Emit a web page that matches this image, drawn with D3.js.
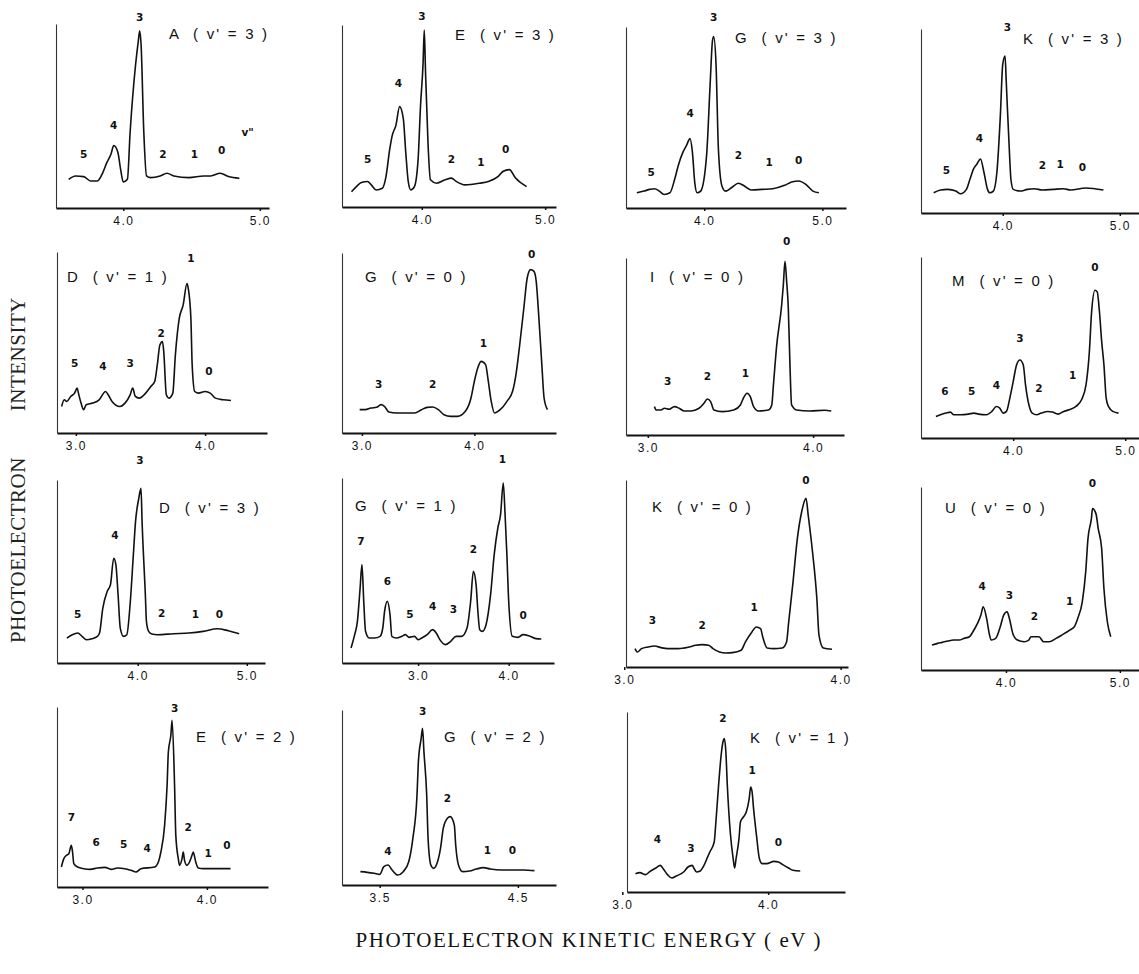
<!DOCTYPE html>
<html>
<head>
<meta charset="utf-8">
<script src="https://cdn.jsdelivr.net/npm/d3@7"></script>
<style>
  body { margin: 0; background: #fff; }
</style>
</head>
<body>
<div class="vis-container"></div>
<script>
// Panel titles: species letter and upper-state vibrational level
const species = ['A', 'E', 'G', 'K', 'D', 'G', 'I', 'M', 'D', 'G', 'K', 'U', 'E', 'G', 'K'];
const vPrime = [3, 3, 3, 3, 1, 0, 0, 0, 3, 1, 0, 0, 2, 2, 1];

// energy axis extent (eV) and labelled ticks of each panel
const energyDomains = [
  [3.507, 5.067], [3.353, 5.088], [3.338, 5.2], [3.302, 5.164],
  [2.854, 4.479], [2.823, 4.726], [2.868, 4.187], [3.177, 5.123],
  [3.26, 5.167], [2.16, 4.5], [3.008, 4.034], [3.254, 5.168],
  [2.795, 4.491], [3.227, 4.776], [3.032, 4.527]
];
const tickValues = [
  [4.0, 5.0], [4.0, 5.0], [4.0, 5.0], [4.0, 5.0],
  [3.0, 4.0], [3.0, 4.0], [3.0, 4.0], [4.0, 5.0],
  [4.0, 5.0], [3.0, 4.0], [3.0, 4.0], [4.0, 5.0],
  [3.0, 4.0], [3.5, 4.5], [3.0, 4.0]
];
// intensity (arb. units) at the top of each panel's vertical axis
const intensityMax = [54.5, 53.5, 53.5, 54.5, 54.5, 54, 53, 54.5, 55, 55.5, 56, 55, 54, 52.5, 54];

// spectra: [kinetic energy (eV), intensity]
const specA3 = [[3.60, 8.5], [3.65, 9.5], [3.71, 9.3], [3.76, 8.0], [3.81, 8.0], [3.85, 10.5], [3.88, 13.5], [3.91, 16.0], [3.93, 18.5], [3.96, 16.5], [3.98, 11.5], [4.00, 7.7], [4.03, 8.5], [4.05, 22.5], [4.09, 42.5], [4.11, 49.5], [4.12, 52.5], [4.13, 48.5], [4.15, 22.5], [4.17, 9.5], [4.20, 9.0], [4.27, 9.5], [4.32, 10.3], [4.37, 9.5], [4.48, 9.0], [4.59, 9.5], [4.64, 9.5], [4.71, 10.3], [4.77, 9.3], [4.85, 8.8]];
const specE3 = [[3.43, 4.5], [3.47, 6.0], [3.51, 7.2], [3.56, 7.5], [3.59, 6.5], [3.63, 5.0], [3.68, 5.5], [3.71, 9.0], [3.74, 17.0], [3.76, 21.0], [3.79, 24.0], [3.82, 29.5], [3.85, 26.0], [3.87, 16.0], [3.89, 7.5], [3.91, 5.0], [3.94, 6.0], [3.97, 14.0], [3.99, 30.0], [4.01, 42.0], [4.02, 52.0], [4.03, 40.0], [4.05, 19.0], [4.07, 8.0], [4.12, 7.0], [4.19, 8.0], [4.24, 8.5], [4.28, 7.5], [4.35, 6.5], [4.47, 7.0], [4.54, 7.5], [4.62, 9.0], [4.66, 10.5], [4.71, 11.0], [4.76, 8.5], [4.85, 6.0]];
const specG3 = [[3.43, 4.5], [3.49, 5.0], [3.54, 5.5], [3.58, 5.7], [3.62, 5.0], [3.66, 4.0], [3.71, 4.5], [3.75, 8.5], [3.78, 12.5], [3.82, 16.5], [3.85, 18.5], [3.88, 20.5], [3.90, 16.5], [3.92, 7.5], [3.94, 4.5], [3.97, 5.0], [4.02, 15.5], [4.05, 36.5], [4.07, 49.5], [4.08, 50.7], [4.10, 42.5], [4.12, 17.5], [4.15, 6.5], [4.18, 5.0], [4.23, 6.0], [4.29, 7.3], [4.34, 6.5], [4.40, 5.3], [4.49, 5.5], [4.58, 5.7], [4.68, 6.7], [4.74, 7.7], [4.80, 8.0], [4.86, 7.0], [4.92, 5.0], [4.97, 4.5]];
const specK3 = [[3.41, 6.0], [3.47, 6.8], [3.53, 7.0], [3.60, 6.5], [3.64, 5.7], [3.69, 7.0], [3.72, 10.0], [3.75, 13.0], [3.78, 14.5], [3.81, 16.0], [3.84, 12.0], [3.87, 7.0], [3.89, 6.0], [3.92, 6.5], [3.95, 12.0], [3.98, 29.0], [4.00, 44.0], [4.02, 46.5], [4.03, 39.0], [4.06, 16.0], [4.07, 10.0], [4.09, 7.0], [4.15, 6.5], [4.21, 7.0], [4.27, 7.2], [4.34, 6.8], [4.43, 7.0], [4.52, 7.2], [4.58, 6.8], [4.71, 7.4], [4.86, 6.8]];
const specD1 = [[2.89, 8.0], [2.91, 10.0], [2.93, 9.5], [2.96, 11.0], [2.99, 12.0], [3.01, 13.5], [3.02, 12.0], [3.04, 9.0], [3.06, 7.0], [3.08, 8.5], [3.13, 9.0], [3.18, 10.0], [3.23, 12.5], [3.25, 11.5], [3.28, 9.5], [3.34, 8.0], [3.38, 9.0], [3.42, 11.5], [3.44, 13.5], [3.46, 11.0], [3.49, 10.5], [3.54, 12.0], [3.58, 14.0], [3.61, 15.5], [3.63, 20.5], [3.65, 26.5], [3.67, 27.5], [3.68, 24.5], [3.70, 11.5], [3.72, 10.5], [3.75, 12.0], [3.77, 23.5], [3.80, 34.5], [3.83, 38.5], [3.86, 45.0], [3.87, 43.5], [3.89, 34.5], [3.90, 20.5], [3.92, 12.5], [3.95, 12.0], [4.00, 12.5], [4.04, 12.0], [4.08, 10.5], [4.14, 10.0], [4.20, 9.8]];
const specG0 = [[2.98, 7.0], [3.03, 7.0], [3.08, 7.5], [3.13, 7.7], [3.17, 8.5], [3.20, 8.0], [3.24, 6.3], [3.31, 6.0], [3.37, 6.0], [3.47, 6.0], [3.53, 7.0], [3.58, 7.7], [3.63, 7.8], [3.68, 7.0], [3.73, 5.5], [3.79, 5.0], [3.85, 5.0], [3.92, 6.5], [3.97, 10.5], [4.00, 15.5], [4.03, 19.5], [4.06, 21.5], [4.10, 20.5], [4.12, 16.5], [4.15, 9.5], [4.18, 6.0], [4.23, 7.0], [4.29, 9.5], [4.34, 12.5], [4.37, 17.5], [4.40, 25.5], [4.44, 37.5], [4.47, 46.5], [4.50, 49.0], [4.53, 48.5], [4.55, 45.5], [4.57, 36.5], [4.60, 20.5], [4.62, 10.5], [4.65, 7.0]];
const specI0 = [[3.04, 8.5], [3.05, 7.5], [3.08, 7.5], [3.10, 8.0], [3.13, 7.7], [3.16, 8.5], [3.19, 8.0], [3.22, 7.2], [3.26, 7.2], [3.31, 8.0], [3.34, 9.5], [3.36, 10.8], [3.38, 10.0], [3.40, 7.5], [3.45, 7.0], [3.52, 7.5], [3.56, 9.0], [3.58, 11.2], [3.60, 12.5], [3.62, 11.5], [3.64, 8.5], [3.67, 7.2], [3.73, 7.5], [3.75, 9.0], [3.76, 15.0], [3.78, 27.0], [3.81, 39.0], [3.82, 45.0], [3.83, 52.0], [3.84, 46.0], [3.85, 38.0], [3.86, 21.0], [3.87, 9.0], [3.90, 7.5], [3.98, 7.2], [4.07, 7.4], [4.11, 7.2]];
const specM0 = [[3.31, 6.5], [3.35, 7.0], [3.40, 7.5], [3.44, 7.8], [3.47, 7.0], [3.53, 7.0], [3.60, 7.2], [3.65, 7.5], [3.69, 7.2], [3.76, 7.0], [3.81, 8.0], [3.85, 9.5], [3.88, 9.0], [3.91, 7.5], [3.94, 8.0], [3.97, 12.0], [4.00, 17.0], [4.03, 22.0], [4.06, 23.5], [4.09, 22.0], [4.11, 16.0], [4.14, 10.0], [4.17, 7.5], [4.21, 7.0], [4.25, 7.5], [4.31, 8.0], [4.35, 7.8], [4.40, 7.2], [4.45, 8.0], [4.50, 8.5], [4.56, 9.5], [4.61, 11.5], [4.65, 16.0], [4.68, 26.0], [4.70, 38.0], [4.73, 44.5], [4.75, 44.0], [4.77, 38.0], [4.79, 29.0], [4.81, 22.0], [4.83, 12.0], [4.85, 9.5], [4.89, 8.0], [4.94, 7.5]];
const specD3 = [[3.35, 7.5], [3.40, 8.5], [3.45, 9.0], [3.49, 8.0], [3.53, 7.0], [3.58, 7.3], [3.63, 8.0], [3.65, 9.0], [3.68, 16.5], [3.72, 21.5], [3.75, 23.5], [3.78, 31.5], [3.80, 29.5], [3.82, 20.5], [3.84, 10.5], [3.87, 8.0], [3.90, 8.5], [3.93, 17.5], [3.96, 32.5], [3.98, 42.5], [4.01, 49.5], [4.03, 52.5], [4.04, 42.5], [4.07, 20.5], [4.08, 12.5], [4.10, 9.5], [4.13, 8.7], [4.18, 8.5], [4.33, 8.8], [4.47, 9.0], [4.60, 9.5], [4.73, 10.3], [4.83, 9.7], [4.93, 8.8]];
const specG1 = [[2.26, 4.5], [2.30, 8.5], [2.33, 12.5], [2.36, 22.5], [2.38, 29.5], [2.40, 18.5], [2.42, 9.5], [2.46, 7.5], [2.52, 7.5], [2.58, 8.0], [2.61, 10.5], [2.63, 15.5], [2.66, 18.5], [2.69, 14.5], [2.71, 8.0], [2.76, 7.5], [2.82, 8.0], [2.86, 8.5], [2.90, 7.7], [2.96, 8.0], [3.00, 7.0], [3.04, 7.5], [3.10, 8.5], [3.16, 10.0], [3.20, 9.0], [3.24, 7.0], [3.30, 5.5], [3.36, 6.5], [3.42, 8.0], [3.48, 8.0], [3.54, 10.5], [3.58, 18.5], [3.61, 27.5], [3.64, 23.5], [3.66, 15.5], [3.68, 10.0], [3.71, 9.5], [3.75, 11.5], [3.80, 20.5], [3.84, 32.5], [3.88, 40.5], [3.91, 44.5], [3.94, 54.0], [3.96, 44.5], [3.98, 32.5], [4.00, 18.5], [4.04, 8.0], [4.10, 7.7], [4.16, 8.5], [4.22, 8.2], [4.30, 7.3], [4.36, 7.2]];
const specK0 = [[3.05, 5.5], [3.06, 4.5], [3.08, 5.5], [3.11, 6.0], [3.14, 6.3], [3.17, 5.8], [3.20, 5.5], [3.25, 5.5], [3.30, 6.0], [3.33, 6.5], [3.36, 6.7], [3.39, 6.5], [3.41, 5.5], [3.44, 4.5], [3.47, 4.2], [3.50, 4.3], [3.54, 5.0], [3.56, 7.5], [3.59, 10.5], [3.61, 12.0], [3.63, 11.5], [3.64, 9.0], [3.66, 5.7], [3.69, 5.5], [3.73, 5.7], [3.75, 7.5], [3.76, 13.5], [3.78, 25.5], [3.80, 38.5], [3.82, 46.5], [3.84, 50.5], [3.85, 45.5], [3.87, 34.5], [3.89, 20.5], [3.90, 9.5], [3.92, 5.7], [3.96, 5.3]];
const specU0 = [[3.35, 7.5], [3.40, 8.0], [3.44, 8.3], [3.49, 8.7], [3.54, 9.0], [3.59, 9.0], [3.63, 9.5], [3.68, 10.0], [3.71, 11.5], [3.75, 14.0], [3.78, 16.5], [3.80, 19.0], [3.83, 15.5], [3.85, 11.5], [3.87, 9.0], [3.91, 9.5], [3.95, 13.0], [3.98, 16.5], [4.01, 17.5], [4.03, 15.5], [4.06, 11.0], [4.10, 9.0], [4.16, 8.5], [4.20, 9.0], [4.22, 10.0], [4.29, 10.0], [4.33, 8.5], [4.38, 8.5], [4.44, 9.5], [4.49, 10.5], [4.56, 12.0], [4.60, 13.0], [4.63, 15.5], [4.67, 20.5], [4.70, 29.5], [4.72, 39.5], [4.75, 45.5], [4.76, 48.5], [4.79, 47.0], [4.81, 42.5], [4.84, 36.5], [4.86, 24.5], [4.89, 14.5], [4.92, 10.0]];
const specE2 = [[2.83, 6.0], [2.85, 8.5], [2.87, 9.5], [2.89, 10.0], [2.91, 12.5], [2.92, 10.5], [2.93, 7.0], [2.96, 6.0], [3.01, 5.5], [3.06, 5.3], [3.12, 5.7], [3.18, 5.9], [3.23, 5.3], [3.28, 5.7], [3.34, 5.5], [3.39, 5.0], [3.43, 4.5], [3.47, 5.5], [3.58, 6.0], [3.61, 7.5], [3.63, 10.5], [3.66, 18.5], [3.68, 30.5], [3.69, 40.5], [3.71, 45.5], [3.72, 50.0], [3.74, 30.5], [3.75, 15.5], [3.77, 8.5], [3.78, 6.5], [3.80, 8.5], [3.81, 10.5], [3.82, 8.0], [3.84, 6.5], [3.86, 7.5], [3.88, 9.5], [3.89, 10.5], [3.91, 7.5], [3.93, 5.7], [3.97, 5.5], [4.03, 5.5], [4.12, 5.5], [4.19, 5.5]];
const specG2 = [[3.36, 4.0], [3.41, 3.8], [3.46, 3.5], [3.50, 3.2], [3.53, 5.5], [3.56, 6.0], [3.59, 4.5], [3.63, 3.0], [3.67, 4.0], [3.71, 7.0], [3.74, 14.0], [3.77, 27.0], [3.78, 37.0], [3.80, 44.0], [3.81, 47.0], [3.82, 40.0], [3.84, 27.0], [3.85, 14.0], [3.87, 6.0], [3.89, 5.0], [3.91, 6.0], [3.94, 11.0], [3.96, 17.0], [3.99, 20.0], [4.01, 20.5], [4.04, 18.0], [4.05, 12.0], [4.07, 6.0], [4.10, 4.0], [4.15, 4.2], [4.20, 4.8], [4.25, 5.2], [4.30, 4.8], [4.38, 4.5], [4.46, 4.5], [4.54, 4.5], [4.62, 4.3]];
const specK1 = [[3.09, 5.5], [3.12, 5.8], [3.16, 5.2], [3.19, 6.2], [3.23, 7.2], [3.26, 8.0], [3.28, 7.0], [3.31, 5.2], [3.34, 4.2], [3.37, 4.8], [3.42, 6.0], [3.45, 7.5], [3.48, 8.0], [3.49, 7.2], [3.51, 6.0], [3.53, 6.2], [3.56, 8.0], [3.58, 10.0], [3.60, 12.0], [3.63, 15.0], [3.64, 20.0], [3.66, 32.0], [3.68, 42.0], [3.69, 45.0], [3.70, 46.0], [3.71, 42.0], [3.72, 32.0], [3.74, 18.0], [3.76, 10.0], [3.77, 7.2], [3.78, 10.0], [3.80, 16.0], [3.81, 21.0], [3.83, 22.5], [3.85, 24.0], [3.87, 28.0], [3.88, 31.5], [3.89, 30.0], [3.90, 25.0], [3.92, 17.0], [3.94, 10.0], [3.96, 8.5], [3.99, 8.5], [4.04, 9.2], [4.07, 9.0], [4.10, 8.2], [4.14, 7.2], [4.17, 6.5], [4.22, 6.3]];
const spectra = [specA3, specE3, specG3, specK3, specD1, specG0, specI0, specM0, specD3, specG1, specK0, specU0, specE2, specG2, specK1];

// lower-state v" labels over the peaks: [text, energy, intensity]
const peakLabels = [
  [['3', 4.12, 56.5], ['4', 3.93, 24.5], ['5', 3.71, 16.0], ['2', 4.29, 16.0], ['1', 4.52, 16.0], ['0', 4.72, 17.0], ['v"', 4.91, 22.5]],
  [['3', 4.00, 56.0], ['4', 3.81, 36.5], ['5', 3.56, 14.0], ['2', 4.24, 14.0], ['1', 4.48, 13.0], ['0', 4.68, 17.0]],
  [['3', 4.08, 56.5], ['4', 3.88, 28.0], ['5', 3.55, 10.5], ['2', 4.29, 15.5], ['1', 4.55, 13.5], ['0', 4.80, 14.0]],
  [['3', 4.04, 55.0], ['4', 3.80, 22.0], ['5', 3.52, 12.5], ['2', 4.34, 14.0], ['1', 4.49, 14.5], ['0', 4.68, 13.5]],
  [['5', 2.99, 21.0], ['4', 3.21, 20.0], ['3', 3.42, 21.0], ['2', 3.66, 30.0], ['1', 3.89, 52.5], ['0', 4.03, 18.5]],
  [['3', 3.15, 14.5], ['2', 3.63, 14.5], ['1', 4.08, 27.0], ['0', 4.51, 53.5]],
  [['3', 3.12, 16.2], ['2', 3.36, 17.5], ['1', 3.59, 18.5], ['0', 3.84, 58.0]],
  [['6', 3.39, 14.0], ['5', 3.63, 14.2], ['4', 3.85, 16.0], ['3', 4.06, 30.0], ['2', 4.23, 15.0], ['1', 4.53, 19.0], ['0', 4.73, 51.5]],
  [['3', 4.02, 61.0], ['4', 3.79, 38.5], ['5', 3.45, 14.7], ['2', 4.22, 15.0], ['1', 4.53, 14.5], ['0', 4.75, 14.5]],
  [['7', 2.37, 36.5], ['6', 2.66, 24.5], ['5', 2.91, 14.5], ['4', 3.16, 17.0], ['3', 3.39, 16.0], ['2', 3.61, 34.0], ['1', 3.93, 61.0], ['0', 4.16, 14.3]],
  [['3', 3.13, 14.0], ['2', 3.36, 12.5], ['1', 3.60, 18.0], ['0', 3.84, 56.0]],
  [['4', 3.79, 25.0], ['3', 4.03, 22.5], ['2', 4.25, 16.0], ['1', 4.56, 20.5], ['0', 4.76, 56.0]],
  [['7', 2.91, 21.0], ['6', 3.11, 13.5], ['5', 3.33, 12.7], ['4', 3.52, 11.5], ['3', 3.74, 53.5], ['2', 3.85, 18.0], ['1', 4.01, 10.0], ['0', 4.16, 12.5]],
  [['4', 3.56, 10.0], ['3', 3.81, 52.0], ['2', 3.99, 26.0], ['1', 4.28, 10.5], ['0', 4.46, 10.5]],
  [['4', 3.24, 15.8], ['3', 3.47, 13.0], ['2', 3.69, 52.0], ['1', 3.89, 36.5], ['0', 4.07, 15.0]]
];

// page layout: axis box of each panel and title offset from its top-left corner
const boxes = [
  { left: 56, top: 24, right: 269, bottom: 208, tx: 113, ty: 10 },
  { left: 342, top: 25, right: 556, bottom: 207, tx: 113, ty: 10 },
  { left: 626, top: 27, right: 846, bottom: 208, tx: 109, ty: 11 },
  { left: 921, top: 29, right: 1139, bottom: 213, tx: 102, ty: 10 },
  { left: 57, top: 252, right: 267, bottom: 433, tx: 10, ty: 25 },
  { left: 342, top: 253, right: 556, bottom: 433, tx: 23, ty: 24 },
  { left: 626, top: 258, right: 844, bottom: 435, tx: 24, ty: 19 },
  { left: 921, top: 257, right: 1139, bottom: 438, tx: 31, ty: 24 },
  { left: 57, top: 480, right: 265, bottom: 663, tx: 102, ty: 28 },
  { left: 342, top: 478, right: 554, bottom: 663, tx: 13, ty: 28 },
  { left: 626, top: 480, right: 848, bottom: 667, tx: 26, ty: 27 },
  { left: 921, top: 487, right: 1139, bottom: 670, tx: 24, ty: 21 },
  { left: 57, top: 707, right: 268, bottom: 887, tx: 139, ty: 30 },
  { left: 342, top: 710, right: 556, bottom: 885, tx: 102, ty: 27 },
  { left: 627, top: 712, right: 845, bottom: 892, tx: 123, ty: 26 }
];

const width = 1139;
const height = 974;

const svg = d3
  .select('.vis-container')
  .append('svg')
  .attr('width', width)
  .attr('height', height)
  .style('background', '#fff');

spectra.forEach((spec, i) => {
  const b = boxes[i];

  const xScale = d3.scaleLinear().domain(energyDomains[i]).range([b.left, b.right]);
  const yScale = d3.scaleLinear().domain([0, intensityMax[i]]).range([b.bottom, b.top]);

  const panel = svg.append('g').attr('class', 'panel');

  // left (intensity) axis: bare line
  panel
    .append('g')
    .attr('transform', `translate(${b.left},0)`)
    .call(d3.axisLeft(yScale).tickValues([]).tickSizeOuter(0))
    .call((g) => g.select('.domain').attr('stroke', '#333').attr('stroke-width', 1.1));

  // bottom (energy) axis
  panel
    .append('g')
    .attr('transform', `translate(0,${b.bottom})`)
    .call(
      d3
        .axisBottom(xScale)
        .tickValues(tickValues[i])
        .tickSize(3)
        .tickSizeOuter(0)
        .tickPadding(5)
        .tickFormat(d3.format('.1f'))
    )
    .call((g) => g.select('.domain').attr('stroke', '#111').attr('stroke-width', 2))
    .call((g) => g.selectAll('.tick line').attr('stroke', '#111').attr('stroke-width', 1.5))
    .call((g) =>
      g
        .selectAll('.tick text')
        .attr('fill', '#111')
        .attr('font-family', 'Liberation Sans, sans-serif')
        .attr('font-size', 12)
        .attr('letter-spacing', 1.5)
    );

  const line = d3
    .line()
    .curve(d3.curveMonotoneX)
    .x((d) => xScale(d[0]))
    .y((d) => yScale(d[1]));

  panel
    .append('path')
    .datum(spec)
    .attr('fill', 'none')
    .attr('stroke', '#111')
    .attr('stroke-width', 1.6)
    .attr('stroke-linejoin', 'round')
    .attr('d', line);

  // peak labels
  panel
    .selectAll('text.peak')
    .data(peakLabels[i])
    .join('text')
    .attr('class', 'peak')
    .attr('x', (d) => xScale(d[1]))
    .attr('y', (d) => yScale(d[2]))
    .attr('dy', '0.35em')
    .attr('text-anchor', 'middle')
    .attr('font-family', 'DejaVu Sans, sans-serif')
    .attr('font-weight', 'bold')
    .attr('font-size', 10.5)
    .attr('fill', '#111')
    .text((d) => d[0]);

  // panel title
  panel
    .append('text')
    .attr('x', b.left + b.tx)
    .attr('y', b.top + b.ty)
    .attr('dy', '0.35em')
    .attr('font-family', 'Liberation Sans, sans-serif')
    .attr('font-size', 15)
    .attr('letter-spacing', 2.2)
    .attr('fill', '#111')
    .style('white-space', 'pre')
    .text(`${species[i]}  ( v' = ${vPrime[i]} )`);
});

// shared axis titles
svg
  .append('text')
  .attr('transform', 'translate(25,470) rotate(-90)')
  .attr('text-anchor', 'middle')
  .attr('font-family', 'Liberation Serif, serif')
  .attr('font-size', 21)
  .attr('letter-spacing', 0.5)
  .attr('fill', '#222')
  .style('white-space', 'pre')
  .text('PHOTOELECTRON        INTENSITY');

svg
  .append('text')
  .attr('x', 588)
  .attr('y', 947)
  .attr('text-anchor', 'middle')
  .attr('font-family', 'Liberation Serif, serif')
  .attr('font-size', 21)
  .attr('textLength', 465)
  .attr('lengthAdjust', 'spacing')
  .attr('fill', '#111')
  .style('white-space', 'pre')
  .text('PHOTOELECTRON KINETIC ENERGY ( eV )');
</script>
</body>
</html>
